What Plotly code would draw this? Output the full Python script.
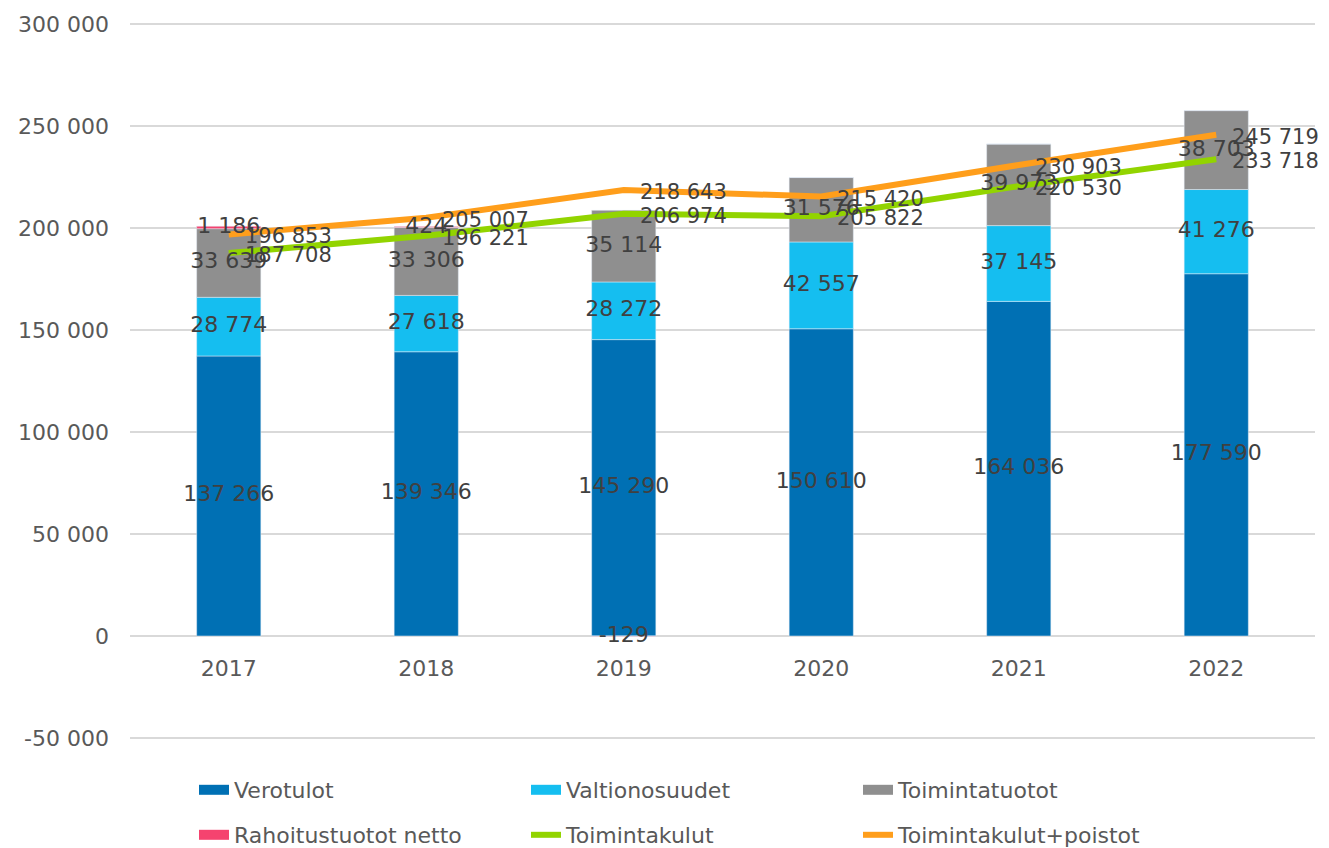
import plotly.graph_objects as go

years = ["2017", "2018", "2019", "2020", "2021", "2022"]
verotulot = [137266, 139346, 145290, 150610, 164036, 177590]
valtionosuudet = [28774, 27618, 28272, 42557, 37145, 41276]
toimintatuotot = [33639, 33306, 35114, 31576, 39973, 38703]
rahoitustuotot = [1186, 424, -129, None, None, None]
toimintakulut = [187708, 196221, 206974, 205822, 220530, 233718]
toimintakulut_poistot = [196853, 205007, 218643, 215420, 230903, 245719]

tick_vals = [-50000, 0, 50000, 100000, 150000, 200000, 250000, 300000]
tick_text = ["-50 000", "0", "50 000", "100 000", "150 000", "200 000", "250 000", "300 000"]

C_VERO = "#0070B4"
C_VALT = "#15BEF0"
C_TOIM = "#8F8F8F"
C_RAHO = "#F5436F"
C_KUL = "#92D400"
C_POI = "#FF9E1B"
FONT = "DejaVu Sans"
LBL = dict(family=FONT, size=22, color="#404040")
LINE_LBL = dict(family=FONT, size=21, color="#404040")
TICK = dict(family=FONT, size=22, color="#595959")

W, H = 1321, 840  # page body has an 8px margin
Y0, Y1 = -51000, 301000


def fmt(v):
    s = f"{abs(int(v)):,}".replace(",", " ")
    return ("-" if v < 0 else "") + s


fig = go.Figure()
bar_w = 0.325
fig.add_trace(go.Bar(x=years, y=verotulot, name="Verotulot", marker_color=C_VERO, width=bar_w, showlegend=False))
fig.add_trace(go.Bar(x=years, y=valtionosuudet, name="Valtionosuudet", marker_color=C_VALT, width=bar_w, showlegend=False))
fig.add_trace(go.Bar(x=years, y=toimintatuotot, name="Toimintatuotot", marker_color=C_TOIM, width=bar_w, showlegend=False))
fig.add_trace(go.Bar(x=years, y=[0 if v is None else v for v in rahoitustuotot],
                     name="Rahoitustuotot netto", marker_color=C_RAHO, width=bar_w, showlegend=False))
fig.add_trace(go.Scatter(x=years, y=toimintakulut, name="Toimintakulut", mode="lines",
                         line=dict(color=C_KUL, width=6), showlegend=False))
fig.add_trace(go.Scatter(x=years, y=toimintakulut_poistot, name="Toimintakulut+poistot", mode="lines",
                         line=dict(color=C_POI, width=6), showlegend=False))

# segment labels for stacked bars
lx, ly, lt = [], [], []
for i, y in enumerate(years):
    base = 0
    for series in (verotulot, valtionosuudet, toimintatuotot):
        v = series[i]
        lx.append(y); ly.append(base + v / 2); lt.append(fmt(v))
        base += v
    r = rahoitustuotot[i]
    if r is not None:
        lx.append(y)
        ly.append(r / 2 if r < 0 else base + r / 2)
        lt.append(fmt(r))
fig.add_trace(go.Scatter(x=lx, y=ly, text=lt, mode="text", textfont=LBL, showlegend=False,
                         hoverinfo="skip", cliponaxis=False))

# line labels (to the right of each point); x given as category index
annotations = []
for series in (toimintakulut, toimintakulut_poistot):
    for i, v in enumerate(series):
        annotations.append(dict(x=i, y=v, xref="x", yref="y", text=fmt(v), showarrow=False,
                                xanchor="left", yanchor="middle", xshift=14, yshift=-2,
                                font=LINE_LBL))

# legend entries (two rows as two legends)
legend_items = [
    ("Verotulot", C_VERO, 14, "legend"),
    ("Valtionosuudet", C_VALT, 14, "legend"),
    ("Toimintatuotot", C_TOIM, 14, "legend"),
    ("Rahoitustuotot netto", C_RAHO, 14, "legend2"),
    ("Toimintakulut", C_KUL, 6, "legend2"),
    ("Toimintakulut+poistot", C_POI, 6, "legend2"),
]
for name, col, w, lg in legend_items:
    fig.add_trace(go.Scatter(x=[years[0]], y=[None], mode="lines", name=name,
                             line=dict(color=col, width=w), legend=lg, hoverinfo="skip"))

leg_common = dict(orientation="h", xref="container", yref="container", x=186 / W,
                  xanchor="left", yanchor="top", entrywidth=287, entrywidthmode="pixels",
                  font=dict(family=FONT, size=22, color="#595959"), bgcolor="rgba(0,0,0,0)")
fig.update_layout(
    barmode="relative",
    width=W, height=H,
    margin=dict(l=122, r=14, t=14, b=108, autoexpand=False),
    paper_bgcolor="white", plot_bgcolor="white",
    font=dict(family=FONT, size=22, color="#595959"),
    legend=dict(**leg_common, y=(H - 761) / H),
    legend2=dict(**leg_common, y=(H - 806) / H),
    annotations=annotations,
)
fig.update_yaxes(range=[Y0, Y1], tickvals=tick_vals, ticktext=tick_text,
                 showgrid=True, gridcolor="#D9D9D9", gridwidth=2, zeroline=False,
                 showline=False, ticks="", ticklabelstandoff=20, automargin=False,
                 tickfont=TICK)
fig.update_xaxes(type="category", categoryorder="array", categoryarray=years,
                 range=[-0.5, len(years) - 0.5],
                 showline=False, ticks="", tickfont=TICK, automargin=False,
                 anchor="free", position=(0 - Y0) / (Y1 - Y0), ticklabelstandoff=17)
fig.write_html("out.html")
